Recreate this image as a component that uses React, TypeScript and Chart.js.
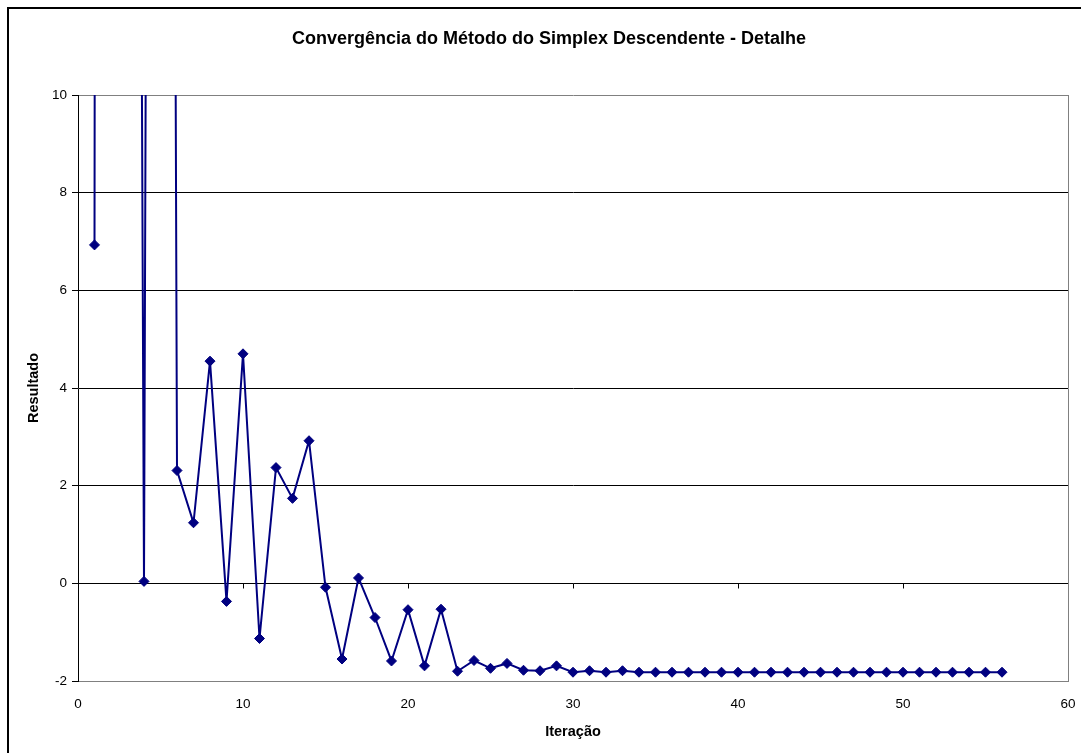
import React, { useEffect, useRef } from "react";
import { Chart, registerables } from "chart.js";

Chart.register(...registerables);

const TITLE = "Convergência do Método do Simplex Descendente - Detalhe";
const X_TITLE = "Iteração";
const Y_TITLE = "Resultado";

const iterations: number[] = [
  1, 2, 3, 4, 5, 6, 7, 8, 9, 10, 11, 12, 13, 14, 15, 16, 17, 18, 19, 20,
  21, 22, 23, 24, 25, 26, 27, 28, 29, 30, 31, 32, 33, 34, 35, 36, 37, 38, 39, 40,
  41, 42, 43, 44, 45, 46, 47, 48, 49, 50, 51, 52, 53, 54, 55, 56,
];

const results: number[] = [
  6.93, 300, 80, 0.04, 100, 2.31, 1.24, 4.55, -0.37, 4.7,
  -1.13, 2.37, 1.74, 2.92, -0.08, -1.55, 0.11, -0.7, -1.59, -0.54,
  -1.69, -0.53, -1.8, -1.58, -1.74, -1.64, -1.78, -1.79, -1.69, -1.82,
  -1.79, -1.82, -1.79, -1.82, -1.82, -1.82, -1.82, -1.82, -1.82, -1.82,
  -1.82, -1.82, -1.82, -1.82, -1.82, -1.82, -1.82, -1.82, -1.82, -1.82,
  -1.82, -1.82, -1.82, -1.82, -1.82, -1.82,
];

const X_MIN = 0;
const X_MAX = 60;
const X_STEP = 10;
const Y_MIN = -2;
const Y_MAX = 10;
const Y_STEP = 2;

const FONT = "'Liberation Sans', Arial, sans-serif";

const decorPlugin = {
  id: "decor",
  beforeDraw(chart: any) {
    const ctx = chart.ctx;
    ctx.save();
    ctx.fillStyle = "#ffffff";
    ctx.fillRect(0, 0, chart.width, chart.height);
    ctx.restore();
  },
  afterDraw(chart: any) {
    const ctx = chart.ctx;
    const area = chart.chartArea;
    const xs = chart.scales.x;
    const ys = chart.scales.y;
    ctx.save();
    // outer border
    ctx.strokeStyle = "#000";
    ctx.lineWidth = 2;
    ctx.beginPath();
    ctx.moveTo(8, chart.height + 2);
    ctx.lineTo(8, 8);
    ctx.lineTo(chart.width + 2, 8);
    ctx.stroke();
    // right plot border
    ctx.strokeStyle = "#808080";
    ctx.lineWidth = 1;
    ctx.beginPath();
    const rx = Math.round(area.right) + 0.5;
    ctx.moveTo(rx, Math.round(area.top));
    ctx.lineTo(rx, Math.round(area.bottom) + 1);
    ctx.stroke();
    // ticks on the zero axis
    const y0 = Math.round(ys.getPixelForValue(0)) + 0.5;
    ctx.strokeStyle = "#000";
    ctx.beginPath();
    for (let v = X_MIN + X_STEP; v < X_MAX; v += X_STEP) {
      const px = Math.round(xs.getPixelForValue(v)) + 0.5;
      ctx.moveTo(px, y0);
      ctx.lineTo(px, y0 + 5);
    }
    ctx.stroke();
    // title
    ctx.fillStyle = "#000";
    ctx.textAlign = "center";
    ctx.textBaseline = "alphabetic";
    ctx.font = `bold 18px ${FONT}`;
    ctx.fillText(TITLE, 549, 43.5);
    // x title
    ctx.font = `bold 14.5px ${FONT}`;
    ctx.fillText(X_TITLE, (area.left + area.right) / 2, 736);
    // y title
    ctx.translate(38, 388);
    ctx.rotate(-Math.PI / 2);
    ctx.fillText(Y_TITLE, 0, 0);
    ctx.restore();
  },
};

export default function App() {
  const canvasRef = useRef<HTMLCanvasElement | null>(null);

  useEffect(() => {
    document.body.style.overflow = "hidden";
    document.documentElement.style.overflow = "hidden";
    const canvas = canvasRef.current;
    if (!canvas) return;
    const points = iterations.map((x, i) => ({ x, y: results[i] }));
    const chart = new Chart(canvas, {
      type: "scatter",
      data: {
        datasets: [
          {
            data: points,
            showLine: true,
            borderColor: "#000080",
            backgroundColor: "#000080",
            borderWidth: 2,
            pointStyle: "rectRot",
            pointRadius: 5,
            pointBorderWidth: 1,
            pointBorderColor: "#000080",
            pointBackgroundColor: "#000080",
          },
        ],
      },
      options: {
        animation: false,
        responsive: false,
        maintainAspectRatio: false,
        devicePixelRatio: 1,
        layout: { padding: { left: 0, top: 95, right: 13, bottom: 0 } },
        plugins: {
          legend: { display: false },
          title: { display: false },
          tooltip: { enabled: false },
        },
        scales: {
          x: {
            type: "linear",
            min: X_MIN,
            max: X_MAX,
            ticks: {
              stepSize: X_STEP,
              color: "#000",
              padding: 15,
              font: { family: FONT, size: 13.5 },
              maxRotation: 0,
            },
            grid: { display: false, drawTicks: false },
            border: { display: true, color: "#808080", width: 1 },
            afterFit: (s: any) => {
              s.height = 72;
              s.paddingLeft = 0;
              s.paddingRight = 0;
            },
          },
          y: {
            type: "linear",
            min: Y_MIN,
            max: Y_MAX,
            ticks: {
              stepSize: Y_STEP,
              color: "#000",
              padding: 5,
              font: { family: FONT, size: 13.5 },
            },
            grid: {
              color: (c: any) =>
                c.tick && (c.tick.value === Y_MAX || c.tick.value === Y_MIN)
                  ? "#808080"
                  : "#000000",
              tickColor: "#000000",
              tickLength: 6,
              lineWidth: 1,
            },
            border: { display: true, color: "#000", width: 1 },
            afterFit: (s: any) => {
              s.width = 78;
              s.paddingTop = 0;
              s.paddingBottom = 0;
            },
          },
        },
      },
      plugins: [decorPlugin],
    });
    return () => chart.destroy();
  }, []);

  return (
    <div style={{ position: "absolute", left: 0, top: 0, width: 1081, height: 753 }}>
      <canvas ref={canvasRef} width={1081} height={753} style={{ display: "block" }} />
    </div>
  );
}
